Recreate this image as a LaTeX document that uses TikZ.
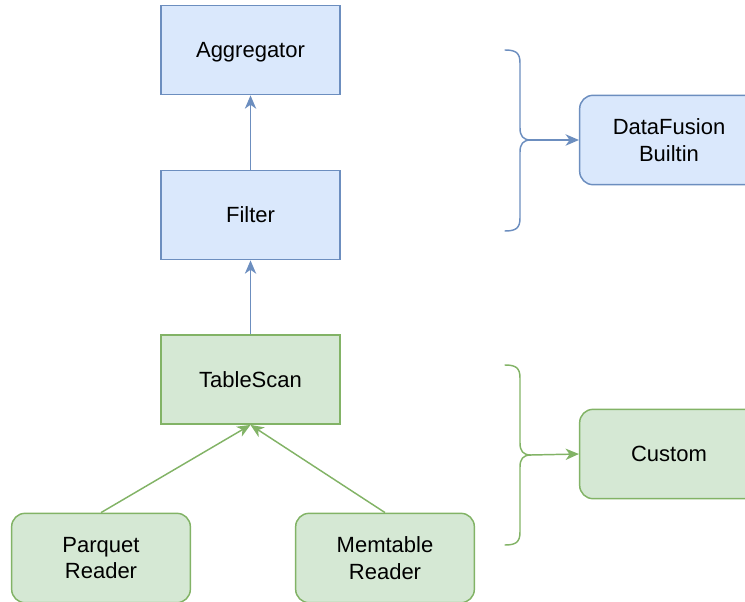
\documentclass[tikz,border=0pt]{standalone}
\usepackage{fontspec}
\setmainfont{Liberation Sans}
\usetikzlibrary{arrows.meta}
\definecolor{blueFill}{HTML}{DAE8FC}
\definecolor{blueLine}{HTML}{6C8EBF}
\definecolor{greenFill}{HTML}{D5E8D4}
\definecolor{greenLine}{HTML}{82B366}
\tikzset{
  box/.style={draw, line width=1.1pt, minimum width=134pt, minimum height=67pt,
    inner sep=0pt, text depth=0pt, align=center, font=\fontsize{16.5}{20}\selectfont},
  bluebox/.style={box, fill=blueFill, draw=blueLine},
  greenbox/.style={box, fill=greenFill, draw=greenLine},
  roundbox/.style={rounded corners=10pt},
  flow/.style={line width=1.1pt, -{Stealth[length=10pt,width=8.5pt,inset=3pt]}},
  brace/.style={line width=1.1pt, line cap=round, line join=round},
}
\begin{document}
\begin{tikzpicture}[x=0.75pt,y=-0.75pt]
  \useasboundingbox (0,0) rectangle (745,602);

  % operator chain
  \node[bluebox] (agg) at (250.5,50) {Aggregator};
  \node[bluebox] (filter) at (250.5,215) {Filter};
  \node[greenbox] (scan) at (250.5,379.5) {TableScan};

  % data sources
  \node[greenbox, roundbox] (parquet) at (101,558) {Parquet\\Reader};
  \node[greenbox, roundbox] (memtable) at (385,558) {Memtable\\Reader};

  % legend boxes
  \node[bluebox, roundbox] (builtin) at (669,140) {DataFusion\\Builtin};
  \node[greenbox, roundbox] (custom) at (669,454) {Custom};

  % connectors
  \draw[flow, blueLine] (filter.north) -- (agg.south);
  \draw[flow, blueLine] (scan.north) -- (filter.south);
  \draw[flow, greenLine] (parquet.north) -- (scan.south);
  \draw[flow, greenLine] (memtable.north) -- (scan.south);

  % braces grouping the layers
  \coordinate (tipA) at (531,140);
  \draw[brace, blueLine] (505,50) .. controls (516,50) and (520,53) .. (520,63)
    -- (520,128) .. controls (520,136) and (523,140) .. (tipA)
    (tipA) .. controls (523,140) and (520,144) .. (520,152)
    -- (520,218) .. controls (520,228) and (516,231) .. (505,231);
  \draw[flow, blueLine] (tipA) -- (builtin.west);

  \coordinate (tipB) at (531,455);
  \draw[brace, greenLine] (505,365) .. controls (516,365) and (520,368) .. (520,378)
    -- (520,443) .. controls (520,451) and (523,455) .. (tipB)
    (tipB) .. controls (523,455) and (520,459) .. (520,467)
    -- (520,532) .. controls (520,542) and (516,545) .. (505,545);
  \draw[flow, greenLine] (tipB) -- (custom.west);
\end{tikzpicture}
\end{document}
